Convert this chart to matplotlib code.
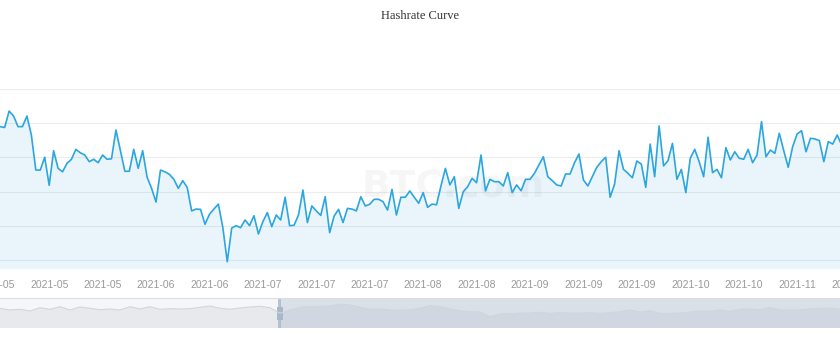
import matplotlib
matplotlib.use('Agg')
import matplotlib.pyplot as plt
from matplotlib.patches import Rectangle
import numpy as np

# daily hashrate (EH/s), starting 2021-05-05
hashrate = [
    157.8, 158.0, 157.5, 167.1, 164.2, 158.0, 158.0, 164.2, 153.1, 132.6,
    132.6, 140.1, 123.7, 143.9, 133.6, 131.6, 136.5, 138.9, 144.7, 142.7,
    141.4, 137.5, 138.9, 136.9, 141.4, 138.9, 139.2, 156.0, 143.9, 131.9,
    131.9, 144.7, 133.6, 143.9, 128.4, 121.9, 113.9, 132.6, 131.6, 130.1,
    127.2, 121.9, 126.4, 122.5, 108.7, 109.8, 109.6, 100.9, 106.7, 109.8,
    112.7, 99.1, 79.0, 98.7, 100.1, 98.9, 103.4, 100.1, 105.9, 95.2,
    102.4, 107.7, 99.5, 106.3, 103.4, 116.7, 100.1, 100.3, 106.3, 120.9,
    101.9, 111.6, 108.7, 106.1, 117.0, 96.0, 105.7, 109.6, 101.9, 110.2,
    109.8, 108.7, 117.0, 111.6, 112.6, 115.5, 115.5, 114.1, 109.2, 121.3,
    106.3, 116.7, 116.7, 120.4, 116.7, 113.2, 119.4, 110.8, 112.7, 112.3,
    123.3, 133.6, 123.9, 128.7, 110.2, 119.9, 122.9, 127.8, 125.2, 141.4,
    120.4, 127.2, 125.8, 125.8, 123.3, 131.1, 119.4, 123.9, 120.5, 127.2,
    127.2, 130.7, 135.6, 140.4, 128.7, 126.4, 123.9, 123.3, 130.3, 130.3,
    136.9, 142.0, 126.8, 123.3, 128.7, 134.2, 137.5, 140.1, 116.7, 124.4,
    143.9, 133.0, 130.7, 128.1, 137.9, 136.1, 122.5, 147.8, 128.7, 158.4,
    135.0, 138.1, 148.2, 127.2, 133.0, 119.4, 139.5, 144.7, 137.5, 128.7,
    151.8, 131.1, 133.0, 128.1, 145.7, 138.5, 143.3, 139.5, 138.9, 144.7,
    136.9, 141.4, 160.9, 140.4, 144.3, 142.4, 154.1, 143.9, 134.2, 146.3,
    153.7, 155.6, 143.3, 151.2, 150.8, 149.8, 137.5, 149.2, 147.8, 153.1,
    147.3, 150.2,
]

tick_labels = ['2021-05', '2021-05', '2021-05', '2021-06', '2021-06', '2021-07',
               '2021-07', '2021-07', '2021-08', '2021-08', '2021-09', '2021-09',
               '2021-09', '2021-10', '2021-10', '2021-11', '2021-11']
label_every = 12

# data shadow shown in the zoom slider (whole history)
overview = [
    19.7, 18.0, 18.7, 17.0, 20.3, 18.7, 21.3, 18.0, 21.0, 19.7,
    18.3, 19.0, 18.0, 21.3, 19.0, 21.3, 18.7, 19.3, 19.0, 19.3,
    20.7, 22.0, 19.7, 18.7, 20.0, 21.0, 21.7, 20.3, 14.7, 18.0,
    20.7, 21.3, 21.7, 22.3, 23.7, 23.0, 20.7, 18.7, 19.0, 18.0,
    17.7, 18.3, 19.7, 22.3, 21.3, 19.3, 17.3, 16.3, 16.0, 11.3,
    14.0, 14.3, 15.0, 15.0, 15.7, 14.7, 15.3, 15.0, 15.0, 15.3,
    14.7, 15.3, 16.3, 18.0, 16.0, 17.3, 14.7, 14.7, 15.0, 16.0,
    17.0, 16.7, 18.0, 16.7, 18.7, 19.0, 18.0, 20.7, 18.0, 18.0,
    18.0, 19.0, 19.3, 20.0, 18.7,
]
window_start = 1 / 3

fig = plt.figure(figsize=(8.4, 3.64), dpi=100)

x = np.arange(len(hashrate))
ax = fig.add_axes([-8.7 / 840, 95 / 364, 863.7 / 840, 180 / 364])
ax.fill_between(x, hashrate, 0, color='#2ba6de', alpha=0.1, lw=0, zorder=1)
ax.plot(x, hashrate, color='#2ba6de', lw=1.2, zorder=3)
ax.set_xlim(-1, 193)
ax.set_ylim(74.74, 180)
ax.set_yticks(np.arange(80, 181, 20))
ax.yaxis.grid(True, color='#ececec', lw=0.8)
ax.set_axisbelow(True)
ax.set_xticks(np.arange(len(tick_labels)) * label_every)
ax.set_xticklabels(tick_labels, fontsize=7.5, color='#999999', family='Liberation Sans')
ax.tick_params(axis='x', length=0, pad=8)
ax.tick_params(axis='y', left=False, labelleft=False)
for s in ax.spines.values():
    s.set_visible(False)

ax.text(0.535, 0.45, 'BTC.com', transform=ax.transAxes, ha='center', va='center',
        fontsize=27, fontweight='bold', color='#000000', alpha=0.035, zorder=2)

fig.text(0.5, 0.955, 'Hashrate Curve', ha='center', va='center',
         fontsize=9, family='Liberation Serif', color='#333333')

# zoom slider
ax2 = fig.add_axes([0, 36 / 364, 1, 30 / 364])
xo = np.arange(len(overview))
ax2.set_facecolor('#f5f6f7')
ax2.fill_between(xo, overview, 0, color='#e7e9ec', lw=0)
ax2.plot(xo, overview, color='#d2d5da', lw=0.8)
ax2.set_xlim(0, len(overview) - 1)
ax2.set_ylim(0, 30)
ax2.add_patch(Rectangle((window_start, 0), 1 - window_start, 1, transform=ax2.transAxes,
                        color='#a7b7cc', alpha=0.35, lw=0))
ax2.add_patch(Rectangle((window_start - 0.002, 0), 0.003, 1, transform=ax2.transAxes,
                        color='#a7b7cc', alpha=0.8, lw=0))
ax2.add_patch(Rectangle((window_start - 0.004, 0.28), 0.008, 0.42, transform=ax2.transAxes,
                        color='#a7b7cc', lw=0))
ax2.set_xticks([])
ax2.set_yticks([])
for s in ax2.spines.values():
    s.set_visible(False)
ax2.spines['top'].set_visible(True)
ax2.spines['top'].set_color('#dddddd')

fig.savefig('out.png', dpi=100)
